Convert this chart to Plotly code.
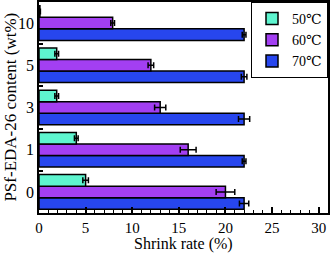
import plotly.graph_objects as go

categories = ["0", "1", "3", "5", "10"]
series_names = ["50℃", "60℃", "70℃"]
vals_50 = [5.0, 4.0, 1.9, 1.9, 0.1]
err_50 = [0.3, 0.2, 0.2, 0.2, 0.05]
vals_60 = [20.0, 16.0, 13.0, 12.0, 7.9]
err_60 = [1.0, 0.85, 0.6, 0.3, 0.2]
vals_70 = [22.0, 22.0, 22.0, 22.0, 22.0]
err_70 = [0.5, 0.2, 0.6, 0.3, 0.2]
colors = ["#5ef5cf", "#a33ff2", "#2746ee"]

fig = go.Figure()
data = [(series_names[2], vals_70, err_70, colors[2]),
        (series_names[1], vals_60, err_60, colors[1]),
        (series_names[0], vals_50, err_50, colors[0])]
for name, v, e, c in data:
    fig.add_trace(go.Bar(
        y=categories, x=v, name=name, orientation="h",
        marker=dict(color=c, line=dict(color="black", width=1.5)),
        error_x=dict(type="data", array=e, visible=True, color="black", thickness=1.5, width=3),
    ))

font_fam = "Liberation Serif, DejaVu Serif, serif"
fig.update_layout(
    width=331, height=253,
    margin=dict(l=39, r=3, t=2, b=40, autoexpand=False),
    barmode="group", bargap=0.18, bargroupgap=0,
    plot_bgcolor="white", paper_bgcolor="white",
    font=dict(family=font_fam, color="black", size=15),
    showlegend=True,
    legend=dict(x=1, y=1, xanchor="right", yanchor="top", traceorder="reversed",
                bordercolor="black", borderwidth=1, bgcolor="white",
                font=dict(size=14, family=font_fam, color="black"), itemwidth=30,
                tracegroupgap=0),
    xaxis=dict(range=[0, 31], tickvals=[0, 5, 10, 15, 20, 25, 30],
               ticks="inside", ticklen=6, tickwidth=1.5, tickcolor="black",
               minor=dict(dtick=1, ticks="inside", ticklen=3, tickcolor="black", tickwidth=1),
               showline=True, linecolor="black", linewidth=1.5, mirror=True,
               showgrid=False, zeroline=False, automargin=False,
               tickfont=dict(size=15, family=font_fam, color="black")),
    yaxis=dict(type="category", categoryorder="array", categoryarray=categories,
               ticks="inside", tickson="boundaries", ticklen=4, tickwidth=1.5, tickcolor="black",
               showline=True, linecolor="black", linewidth=1.5, mirror=True,
               showgrid=False, zeroline=False, automargin=False,
               tickfont=dict(size=16, family=font_fam, color="black")),
    annotations=[
        dict(text="Shrink rate (%)", xref="paper", yref="paper", x=0.5, y=-0.145,
             xanchor="center", yanchor="middle", showarrow=False,
             font=dict(size=16, family=font_fam, color="black")),
        dict(text="PSf-EDA-26 content (wt%)", xref="paper", yref="paper", x=-0.1, y=0.5,
             xanchor="center", yanchor="middle", textangle=-90, showarrow=False,
             font=dict(size=17, family=font_fam, color="black")),
    ],
)

fig.write_html("out.html", config={"displayModeBar": False},
               post_script="document.body.style.margin='0';document.body.style.overflow='hidden';")
